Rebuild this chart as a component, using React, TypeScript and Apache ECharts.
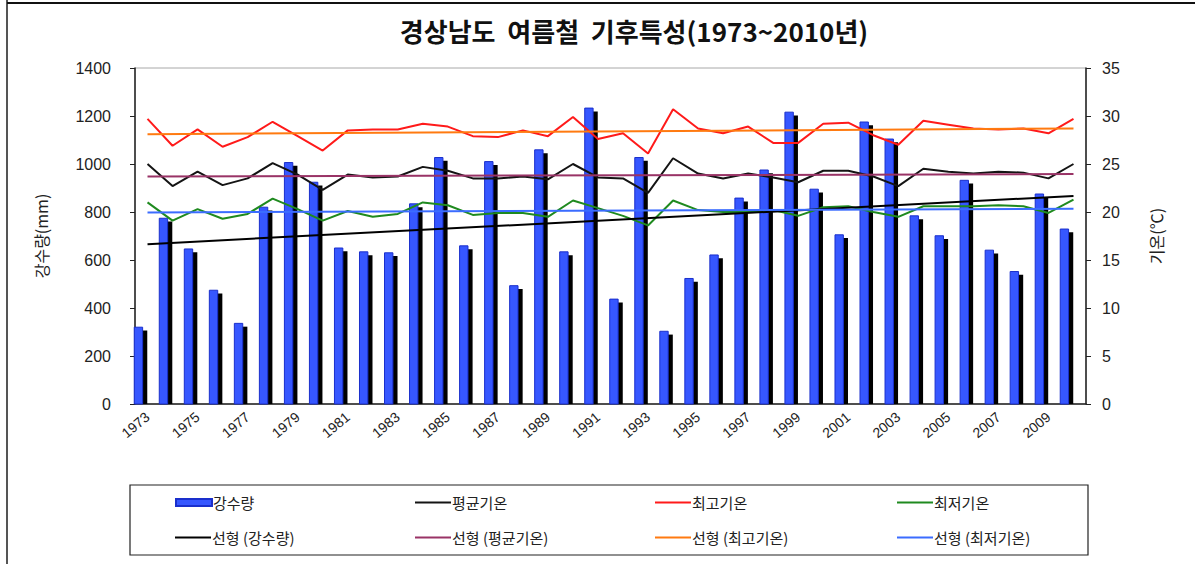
import React, { useEffect, useRef } from "react";
import * as echarts from "echarts";

const years = [
  "1973", "1974", "1975", "1976", "1977", "1978", "1979", "1980", "1981", "1982",
  "1983", "1984", "1985", "1986", "1987", "1988", "1989", "1990", "1991", "1992",
  "1993", "1994", "1995", "1996", "1997", "1998", "1999", "2000", "2001", "2002",
  "2003", "2004", "2005", "2006", "2007", "2008", "2009", "2010",
];

const precipitation = [
  320, 774, 646, 474, 336, 820, 1006, 924, 650, 634,
  630, 834, 1027, 659, 1010, 493, 1059, 634, 1233, 437,
  1027, 303, 523, 621, 858, 975, 1216, 895, 705, 1175,
  1104, 784, 701, 932, 641, 552, 875, 729,
];

const avgTemp = [
  25.0, 22.7, 24.2, 22.8, 23.5, 25.1, 23.9, 22.3, 23.9, 23.6,
  23.7, 24.7, 24.3, 23.5, 23.5, 23.7, 23.4, 25.0, 23.6, 23.5,
  22.0, 25.6, 24.0, 23.5, 24.0, 23.6, 23.1, 24.3, 24.3, 23.7,
  22.7, 24.5, 24.2, 24.0, 24.2, 24.1, 23.5, 25.0,
];

const maxTemp = [
  29.7, 26.9, 28.6, 26.8, 27.8, 29.4, 27.9, 26.4, 28.5, 28.6,
  28.6, 29.2, 28.9, 27.9, 27.8, 28.5, 27.9, 29.9, 27.6, 28.2,
  26.1, 30.7, 28.7, 28.2, 28.9, 27.2, 27.2, 29.2, 29.3, 28.0,
  27.0, 29.5, 29.1, 28.7, 28.6, 28.7, 28.2, 29.7,
];

const minTemp = [
  21.0, 19.1, 20.3, 19.3, 19.8, 21.4, 20.3, 19.1, 20.1, 19.5,
  19.8, 21.0, 20.7, 19.7, 19.9, 19.9, 19.5, 21.2, 20.4, 19.6,
  18.6, 21.2, 20.2, 20.0, 20.0, 20.2, 19.6, 20.5, 20.6, 20.0,
  19.5, 20.6, 20.6, 20.6, 20.7, 20.6, 19.9, 21.3,
];

// linear trendline end values (first year, last year)
const trendPrecip = [666, 867];
const trendAvg = [23.7, 23.95];
const trendMax = [28.1, 28.7];
const trendMin = [19.95, 20.33];

const leftTicks = [0, 1400, 200];
const rightTicks = [0, 35, 5];

const seriesNames = [
  "강수량", "평균기온", "최고기온", "최저기온",
  "선형 (강수량)", "선형 (평균기온)", "선형 (최고기온)", "선형 (최저기온)",
];

const KR = "'Noto Sans CJK KR', 'Noto Sans', sans-serif";
const NUM = "'Liberation Sans', Arial, sans-serif";

export default function App() {
  const ref = useRef<HTMLDivElement>(null);

  useEffect(() => {
    if (!ref.current) return;
    const chart = echarts.init(ref.current, null, { renderer: "svg" });

    const lastIdx = years.length - 1;
    const trendData = (t: number[]) => [[0, t[0]], [lastIdx, t[1]]];

    const colors = {
      bar: "#3657ff",
      barBorder: "#1a2fcc",
      avg: "#141414",
      max: "#ff1a1a",
      min: "#1f8a1f",
      tPrecip: "#000000",
      tAvg: "#993366",
      tMax: "#ff7a10",
      tMin: "#3b6cff",
    };

    const legendPos = [
      [175, 495], [415, 495], [655, 495], [897, 495],
      [175, 530], [415, 530], [655, 530], [897, 530],
    ];

    const legends = seriesNames.map((n, i) => ({
      show: true,
      left: legendPos[i][0],
      top: legendPos[i][1],
      orient: "horizontal",
      itemWidth: 36,
      itemHeight: i === 0 ? 7 : 2,
      itemGap: 0,
      padding: 0,
      selectedMode: false,
      data: [{ name: n, icon: "rect" }],
      textStyle: { fontFamily: KR, fontSize: 15, color: "#222", padding: [0, 0, 0, -4] },
    }));

    const lineSeries = (name: string, data: number[], color: string) => ({
      name,
      type: "line",
      xAxisIndex: 0,
      yAxisIndex: 1,
      data,
      symbol: "none",
      lineStyle: { color, width: 2 },
      itemStyle: { color },
      z: 3,
    });

    const trendSeries = (name: string, t: number[], color: string, yIdx: number) => ({
      name,
      type: "line",
      xAxisIndex: 1,
      yAxisIndex: yIdx,
      data: trendData(t),
      symbol: "none",
      lineStyle: { color, width: 2 },
      itemStyle: { color },
      z: 4,
    });

    chart.setOption({
      animation: false,
      backgroundColor: "#ffffff",
      title: {
        text: "경상남도  여름철  기후특성(1973~2010년)",
        left: 629,
        top: 12,
        textAlign: "center",
        textStyle: { fontFamily: KR, fontSize: 26, fontWeight: "bold", color: "#111" },
      },
      legend: legends,
      grid: {
        left: 135,
        right: 109,
        top: 68,
        bottom: 160,
        show: true,
        borderColor: "#a8a8a8",
        borderWidth: 1,
        containLabel: false,
      },
      xAxis: [
        {
          type: "category",
          data: years,
          boundaryGap: true,
          axisLine: { onZero: false, lineStyle: { color: "#222", width: 1.5 } },
          axisTick: { show: false },
          axisLabel: {
            interval: 1,
            rotate: 40,
            margin: 11,
            fontFamily: NUM,
            fontSize: 14,
            color: "#222",
          },
        },
        {
          type: "value",
          min: -0.5,
          max: lastIdx + 0.5,
          show: false,
          splitLine: { show: false },
        },
      ],
      yAxis: [
        {
          type: "value",
          min: leftTicks[0],
          max: leftTicks[1],
          interval: leftTicks[2],
          name: "강수량(mm)",
          nameLocation: "middle",
          nameRotate: 90,
          nameGap: 86,
          nameTextStyle: { fontFamily: KR, fontSize: 16, color: "#222" },
          axisLine: { show: true, onZero: false, lineStyle: { color: "#222", width: 1.5 } },
          axisTick: { show: true, length: 5, lineStyle: { color: "#222" } },
          axisLabel: {
            margin: 24,
            fontFamily: NUM,
            fontSize: 16,
            color: "#222",
            formatter: (v: number) => String(v),
          },
          splitLine: { show: false },
        },
        {
          type: "value",
          min: rightTicks[0],
          max: rightTicks[1],
          interval: rightTicks[2],
          position: "right",
          name: "기온(℃)",
          nameLocation: "middle",
          nameRotate: 90,
          nameGap: 62,
          nameTextStyle: { fontFamily: KR, fontSize: 16, color: "#222" },
          axisLine: { show: true, onZero: false, lineStyle: { color: "#222", width: 1.5 } },
          axisTick: { show: true, length: 5, lineStyle: { color: "#222" } },
          axisLabel: {
            margin: 16,
            fontFamily: NUM,
            fontSize: 16,
            color: "#222",
            formatter: (v: number) => String(v),
          },
          splitLine: { show: false },
        },
      ],
      series: [
        {
          name: seriesNames[0],
          type: "custom",
          xAxisIndex: 0,
          yAxisIndex: 0,
          itemStyle: { color: colors.bar, borderColor: colors.barBorder, borderWidth: 1 },
          encode: { x: 0, y: 1 },
          data: precipitation.map((v, i) => [i, v]),
          z: 2,
          renderItem: (params: any, api: any) => {
            const idx = api.value(0);
            const val = api.value(1);
            const top = api.coord([idx, val]);
            const base = api.coord([idx, 0]);
            const bw = api.size([1, 0])[0];
            const cx = top[0];
            const w = 0.335 * bw;
            const h = base[1] - top[1];
            return {
              type: "group",
              children: [
                {
                  type: "rect",
                  shape: { x: cx - 0.345 * bw, y: top[1] + 3.3, width: w, height: Math.max(0, h - 3.3) },
                  style: { fill: "#000000" },
                },
                {
                  type: "rect",
                  shape: { x: cx - 0.53 * bw, y: top[1], width: w, height: h },
                  style: { fill: colors.bar, stroke: colors.barBorder, lineWidth: 1 },
                },
              ],
            };
          },
        },
        lineSeries(seriesNames[1], avgTemp, colors.avg),
        lineSeries(seriesNames[2], maxTemp, colors.max),
        lineSeries(seriesNames[3], minTemp, colors.min),
        trendSeries(seriesNames[4], trendPrecip, colors.tPrecip, 0),
        trendSeries(seriesNames[5], trendAvg, colors.tAvg, 1),
        trendSeries(seriesNames[6], trendMax, colors.tMax, 1),
        trendSeries(seriesNames[7], trendMin, colors.tMin, 1),
      ],
      graphic: [
        {
          type: "line",
          shape: { x1: 7, y1: 0, x2: 7, y2: 564 },
          style: { stroke: "#555", lineWidth: 2 },
        },
        {
          type: "line",
          shape: { x1: 7, y1: 3, x2: 1195, y2: 3 },
          style: { stroke: "#111", lineWidth: 2 },
        },
        {
          type: "rect",
          shape: { x: 130, y: 485, width: 958, height: 70 },
          style: { fill: "none", stroke: "#222", lineWidth: 1.2 },
          z: -1,
        },
      ],
    });

    return () => chart.dispose();
  }, []);

  return (
    <div
      ref={ref}
      style={{ position: "absolute", left: 0, top: 0, width: 1195, height: 564 }}
    />
  );
}
